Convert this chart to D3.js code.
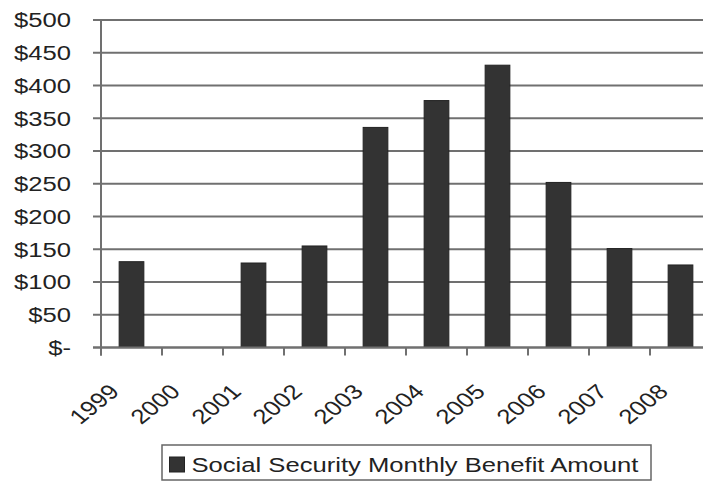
<!DOCTYPE html>
<html><head><meta charset="utf-8">
<script src="https://cdn.jsdelivr.net/npm/d3@7"></script>
<style>body{margin:0;background:#fff}svg{display:block}</style>
</head><body>
<svg id="c" width="703" height="481"></svg>
<script>
const years = ["1999","2000","2001","2002","2003","2004","2005","2006","2007","2008"];
const benefit = [131, null, 129, 155, 336, 377, 431, 252, 151, 126];
const yTicks = [0,50,100,150,200,250,300,350,400,450,500];
const seriesName = "Social Security Monthly Benefit Amount";

const svg = d3.select("#c");
const font = "'Liberation Sans', Arial, sans-serif";
const fs = 20.5, sx = 1.25;

const x = d3.scaleBand().domain(years).range([101, 711]).padding(0);
const y = d3.scaleLinear().domain([0, 500]).range([347.5, 20]);
const barW = x.bandwidth() * 0.405;
const gridColor = "#707070";

// gridlines with left tick
svg.append("g").selectAll("line").data(yTicks).join("line")
  .attr("x1", 93).attr("x2", 703)
  .attr("y1", d => y(d)).attr("y2", d => y(d))
  .attr("stroke", gridColor).attr("stroke-width", 2);

// y labels
svg.append("g").selectAll("text").data(yTicks).join("text")
  .attr("transform", d => `translate(71,${y(d)}) scale(${sx},1)`)
  .attr("text-anchor", "end").attr("dy", "0.36em")
  .attr("font-family", font).attr("font-size", fs).attr("fill", "#222")
  .text(d => d === 0 ? "$-" : "$" + d);

// bars
svg.append("g").selectAll("rect").data(years.map((yr, i) => ({yr, v: benefit[i]})).filter(d => d.v != null))
  .join("rect")
  .attr("x", d => x(d.yr) + (x.bandwidth() - barW) / 2)
  .attr("y", d => y(d.v))
  .attr("width", barW)
  .attr("height", d => y(0) - y(d.v))
  .attr("fill", "#333").attr("stroke", "#222").attr("stroke-width", 1);

// y axis line
svg.append("line").attr("x1", 101).attr("x2", 101).attr("y1", y(500)).attr("y2", y(0) + 8)
  .attr("stroke", gridColor).attr("stroke-width", 2);
// x axis line
svg.append("line").attr("x1", 93).attr("x2", 703).attr("y1", y(0)).attr("y2", y(0))
  .attr("stroke", gridColor).attr("stroke-width", 2);
// x ticks
svg.append("g").selectAll("line").data(years).join("line")
  .attr("x1", d => x(d)).attr("x2", d => x(d))
  .attr("y1", y(0)).attr("y2", y(0) + 8)
  .attr("stroke", gridColor).attr("stroke-width", 2);

// x labels
svg.append("g").selectAll("text").data(years).join("text")
  .attr("transform", d => `translate(${x(d) + x.bandwidth() / 2 - 11},393) scale(${sx},1) rotate(-45)`)
  .attr("text-anchor", "end")
  .attr("font-family", font).attr("font-size", fs).attr("fill", "#222")
  .text(d => d);

// legend
const lg = svg.append("g");
lg.append("rect").attr("x", 162).attr("y", 445).attr("width", 489).attr("height", 35)
  .attr("fill", "#fff").attr("stroke", "#666").attr("stroke-width", 1.5);
lg.append("rect").attr("x", 169.5).attr("y", 457).attr("width", 15).attr("height", 15)
  .attr("fill", "#333").attr("stroke", "#222");
lg.append("text").attr("transform", `translate(191.5,472) scale(${sx},1)`)
  .attr("font-family", font).attr("font-size", fs).attr("fill", "#222")
  .text(seriesName);
</script>
</body></html>
